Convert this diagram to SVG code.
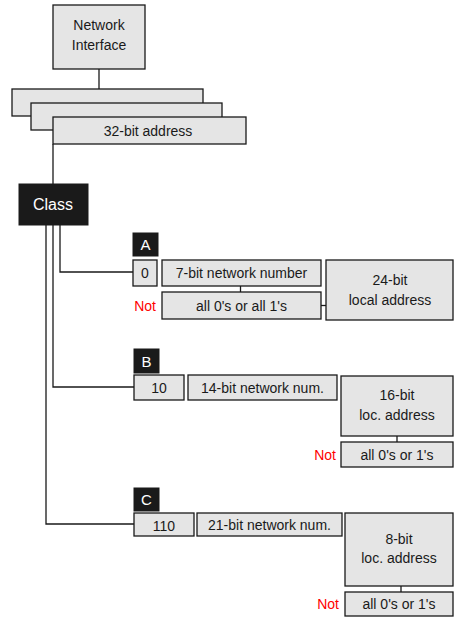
<svg xmlns="http://www.w3.org/2000/svg" width="470" height="630" viewBox="0 0 470 630">
<style>
.box{fill:#e5e5e5;stroke:#1a1a1a;stroke-width:1.3}
.dark{fill:#1a1a1a;stroke:#1a1a1a;stroke-width:1}
.t{font-family:"Liberation Sans",Arial,sans-serif;font-size:14px;fill:#1a1a1a;text-anchor:middle}
.w{font-family:"Liberation Sans",Arial,sans-serif;fill:#ffffff;text-anchor:middle}
.not{font-family:"Liberation Sans",Arial,sans-serif;font-size:14px;fill:#ff0000;text-anchor:end}
.c{fill:none;stroke:#1a1a1a;stroke-width:1.3}
</style>
<rect width="470" height="630" fill="#ffffff"/>
<g id="connectors">
<path class="c" d="M99,69 V89"/>
<path class="c" d="M53,144 V184"/>
<path class="c" d="M60,225 V272 H133"/>
<path class="c" d="M53,225 V387 H134"/>
<path class="c" d="M46,225 V524 H134"/>
<path class="c" d="M240.5,286 V292"/>
<path class="c" d="M321,305.5 H326"/>
<path class="c" d="M397,436 V442"/>
<path class="c" d="M401,586 V592"/>
</g>
<g id="network-interface">
<rect class="box" x="53" y="5" width="92" height="64"/>
<text class="t" x="99" y="29.5">Network</text>
<text class="t" x="99" y="49.5">Interface</text>
</g>
<g id="address-stack">
<rect class="box" x="12" y="89" width="191" height="27"/>
<rect class="box" x="31" y="103" width="191" height="27"/>
<rect class="box" x="53" y="117" width="193" height="27"/>
<text class="t" x="148" y="135.5">32-bit address</text>
</g>
<g id="class">
<rect class="dark" x="19" y="184" width="69" height="41"/>
<text class="w" x="53" y="209.5" font-size="16">Class</text>
</g>
<g id="class-a">
<rect class="dark" x="133" y="233" width="25" height="23"/>
<text class="w" x="145.5" y="250" font-size="15">A</text>
<rect class="box" x="133" y="260" width="24" height="26"/>
<text class="t" x="145" y="278">0</text>
<rect class="box" x="162" y="260" width="159" height="26"/>
<text class="t" x="241.5" y="278">7-bit network number</text>
<rect class="box" x="162" y="292" width="159" height="27"/>
<text class="t" x="241.5" y="310.5">all 0's or all 1's</text>
<text class="not" x="156" y="311">Not</text>
<rect class="box" x="326" y="260" width="127" height="60"/>
<text class="t" x="390" y="284.5">24-bit</text>
<text class="t" x="390" y="304.5">local address</text>
</g>
<g id="class-b">
<rect class="dark" x="134" y="349" width="25" height="24"/>
<text class="w" x="146.5" y="367" font-size="15">B</text>
<rect class="box" x="134" y="375" width="50" height="25"/>
<text class="t" x="159" y="393">10</text>
<rect class="box" x="188" y="375" width="149" height="25"/>
<text class="t" x="262.5" y="393">14-bit network num.</text>
<rect class="box" x="341" y="376" width="112" height="60"/>
<text class="t" x="397" y="399.5">16-bit</text>
<text class="t" x="397" y="420">loc. address</text>
<rect class="box" x="341" y="442" width="112" height="25"/>
<text class="t" x="397" y="459.5">all 0's or 1's</text>
<text class="not" x="336" y="459.5">Not</text>
</g>
<g id="class-c">
<rect class="dark" x="134" y="488" width="25" height="23"/>
<text class="w" x="146.5" y="505" font-size="15">C</text>
<rect class="box" x="134" y="513" width="60" height="23"/>
<text class="t" x="164" y="531">110</text>
<rect class="box" x="197" y="513" width="145" height="23"/>
<text class="t" x="269.5" y="529.5">21-bit network num.</text>
<rect class="box" x="345" y="513" width="108" height="73"/>
<text class="t" x="399" y="543.5">8-bit</text>
<text class="t" x="399" y="563">loc. address</text>
<rect class="box" x="345" y="592" width="108" height="24"/>
<text class="t" x="399" y="609">all 0's or 1's</text>
<text class="not" x="339" y="609">Not</text>
</g>
</svg>
